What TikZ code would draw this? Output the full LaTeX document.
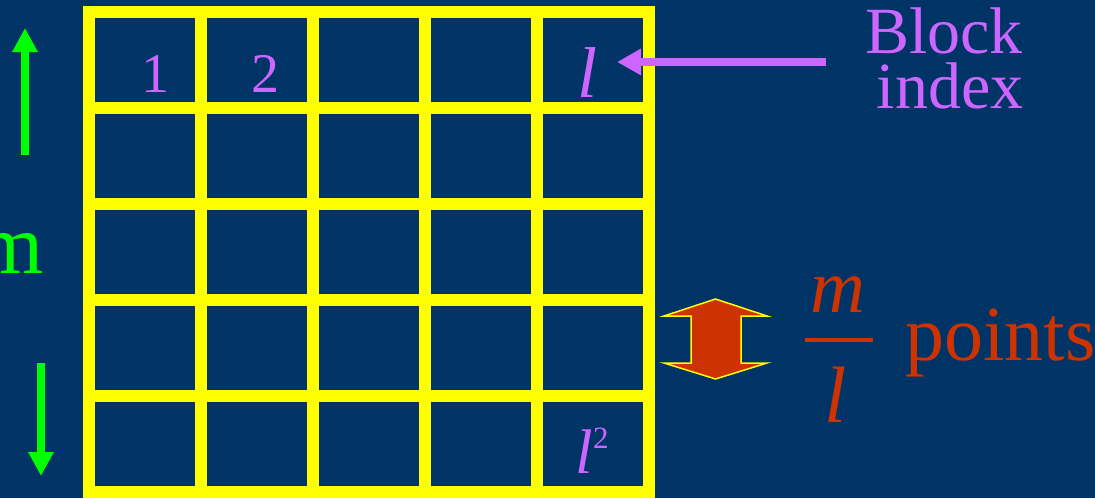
\documentclass[tikz,border=0pt]{standalone}
\usepackage{fontspec}
\setmainfont{Liberation Serif}
\newfontfamily\slidefont{Liberation Serif}
\usetikzlibrary{arrows.meta,positioning}
\definecolor{BackClr}{rgb}{0,0.2,0.4}
\definecolor{GridClr}{rgb}{1,1,0}
\definecolor{IndexClr}{rgb}{0.8,0.4,1}
\definecolor{SideClr}{rgb}{0,1,0}
\definecolor{PointsClr}{rgb}{0.8,0.2,0}

\begin{document}
\begin{tikzpicture}[x=1pt,y=-1pt,
  gridline/.style={line width=12pt,color=GridClr},
  idxlbl/.style={text=IndexClr,inner sep=0pt,anchor=base},
  ptslbl/.style={text=PointsClr,inner sep=0pt,anchor=base},
  sidearrow/.style={line width=8pt,color=SideClr,-{Triangle[length=24pt,width=24pt]}},
  idxarrow/.style={line width=8pt,color=IndexClr,-{Triangle[length=24pt,width=25pt]}}]
\fill[BackClr] (0,0) rectangle (1095,498);
\clip (0,0) rectangle (1095,498);

% the l x l blocks
\foreach \i in {0,...,5}
  \draw[gridline] (89+112*\i,6) -- (89+112*\i,498);
\foreach \j in {0,...,5}
  \draw[gridline] (83,12+96*\j) -- (655,12+96*\j);

% block numbers
\node[idxlbl,font=\slidefont\fontsize{56}{56}\selectfont] (blkA) at (155,92) {1};
\node[idxlbl,font=\slidefont\fontsize{56}{56}\selectfont] (blkB) at (265,92) {2};
\node[idxlbl,font=\slidefont\fontsize{72}{72}\selectfont\itshape] (blkL) at (587,97) {l};
\node[idxlbl,font=\slidefont\fontsize{63}{63}\selectfont] (blkLL) at (592,473)
  {\textit{l}\raisebox{25pt}{\fontsize{31}{31}\selectfont 2}};

\node[idxlbl,font=\slidefont\fontsize{66}{66}\selectfont] (blockword) at (944,53) {Block};
\node[idxlbl,font=\slidefont\fontsize{66}{66}\selectfont] (indexword) at (950,108) {index};
\coordinate (idxtail) at ([xshift=-39pt]blockword.west |- 0,62);
\coordinate (idxtip) at (617,62);
\draw[idxarrow] (idxtail) -- (idxtip);

% side length m
\node[text=SideClr,inner sep=0pt,anchor=base east,font=\slidefont\fontsize{85}{85}\selectfont] (sidem) at (44,273) {m};
\coordinate (upfoot) at (25,155);
\coordinate (uptip) at (25,28);
\coordinate (downtop) at (41,363);
\coordinate (downtip) at (41,476);
\draw[sidearrow] (upfoot) -- (uptip);
\draw[sidearrow] (downtop) -- (downtip);

% height of one block
\draw[fill=PointsClr,draw=GridClr,line width=1.5pt,line join=miter]
  (715.5,299) -- (767,316) -- (741,316) -- (741,363) -- (767,363) -- (715.5,379)
  -- (664,363) -- (691,363) -- (691,316) -- (664,316) -- cycle;
\node[ptslbl,font=\slidefont\fontsize{76}{76}\selectfont\itshape] (fracm) at (838,312) {m};
\node[ptslbl,font=\slidefont\fontsize{80}{80}\selectfont\itshape] (fracl) at (836,422) {l};
\draw[PointsClr,line width=4pt] (805,340) -- (873,340);
\node[ptslbl,anchor=base west,font=\slidefont\fontsize{78}{78}\selectfont] (pointsword) at (905,360) {points};
\end{tikzpicture}
\end{document}
